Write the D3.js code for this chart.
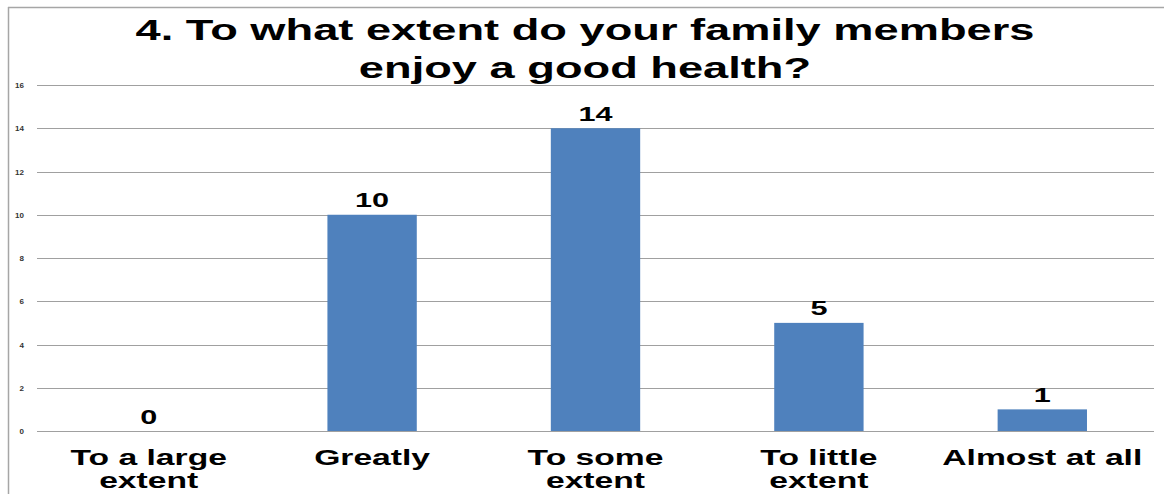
<!DOCTYPE html>
<html>
<head>
<meta charset="utf-8">
<script src="https://cdn.jsdelivr.net/npm/d3@7"></script>
<style>
  html, body { margin: 0; padding: 0; background: #fff; }
  svg { display: block; }
</style>
</head>
<body>
<svg id="chart" width="1164" height="494"></svg>
<script>
const titleLines = ["4. To what extent do your family members", "enjoy a good health?"];
const categories = ["To a large extent", "Greatly", "To some extent", "To little extent", "Almost at all"];
const categoryLines = [["To a large", "extent"], ["Greatly"], ["To some", "extent"], ["To little", "extent"], ["Almost at all"]];
const values = [0, 10, 14, 5, 1];
const yTicks = [0, 2, 4, 6, 8, 10, 12, 14, 16];

const W = 1164, H = 494;
const margin = { left: 37, right: 10, top: 85, bottom: 63 };
const FONT = "Liberation Sans, Arial, sans-serif";
const svg = d3.select("#chart");

// frame lines (top and left edges)
svg.append("line").attr("x1", 8).attr("x2", W).attr("y1", 7.5).attr("y2", 7.5)
  .attr("stroke", "#a6a6a6").attr("stroke-width", 1.5);
svg.append("line").attr("x1", 8.5).attr("x2", 8.5).attr("y1", 7).attr("y2", H)
  .attr("stroke", "#a6a6a6").attr("stroke-width", 1.5);

const x = d3.scaleBand().domain(categories)
  .range([margin.left, W - margin.right])
  .paddingInner(0.6).paddingOuter(0.3);
const y = d3.scaleLinear().domain([0, 16]).range([H - margin.bottom, margin.top]);

// gridlines
svg.append("g").selectAll("line").data(yTicks).join("line")
  .attr("x1", margin.left).attr("x2", W - margin.right)
  .attr("y1", d => Math.round(y(d)) + 0.5).attr("y2", d => Math.round(y(d)) + 0.5)
  .attr("stroke", "#a0a0a0").attr("stroke-width", 1);

// y axis tick labels
const yAxis = d3.axisLeft(y).tickValues(yTicks).tickSize(0).tickPadding(13);
const gy = svg.append("g").attr("transform", `translate(${margin.left},0)`).call(yAxis);
gy.select(".domain").remove();
gy.selectAll("text").attr("font-family", FONT)
  .attr("font-size", 8).attr("fill", "#333").attr("font-weight", "bold");

// bars
svg.append("g").selectAll("rect").data(values).join("rect")
  .attr("x", (d, i) => x(categories[i]))
  .attr("width", x.bandwidth())
  .attr("y", d => y(d))
  .attr("height", d => y(0) - y(d))
  .attr("fill", "#4f81bd");

// wide-set bold text: horizontally stretched about its anchor point
function wideText(parent, cx, cy, lines, size, sx, lineGap) {
  const g = parent.append("g").attr("transform", `translate(${cx},${cy}) scale(${sx},1)`);
  const t = g.append("text").attr("text-anchor", "middle")
    .attr("font-family", FONT).attr("font-weight", "bold")
    .attr("font-size", size).attr("fill", "#000");
  t.selectAll("tspan").data(lines).join("tspan")
    .attr("x", 0).attr("dy", (d, i) => i === 0 ? 0 : lineGap)
    .text(d => d);
  return g;
}

// value labels
const vg = svg.append("g");
values.forEach((v, i) => {
  wideText(vg, x(categories[i]) + x.bandwidth() / 2, y(v) - 7.5, [String(v)], 20, 1.53, 0);
});

// category labels
const cg = svg.append("g");
categoryLines.forEach((lines, i) => {
  wideText(cg, x(categories[i]) + x.bandwidth() / 2, 465, lines, 22, 1.53, 23);
});

// title
wideText(svg, 585, 40, titleLines, 29, 1.56, 38);
</script>
</body>
</html>
